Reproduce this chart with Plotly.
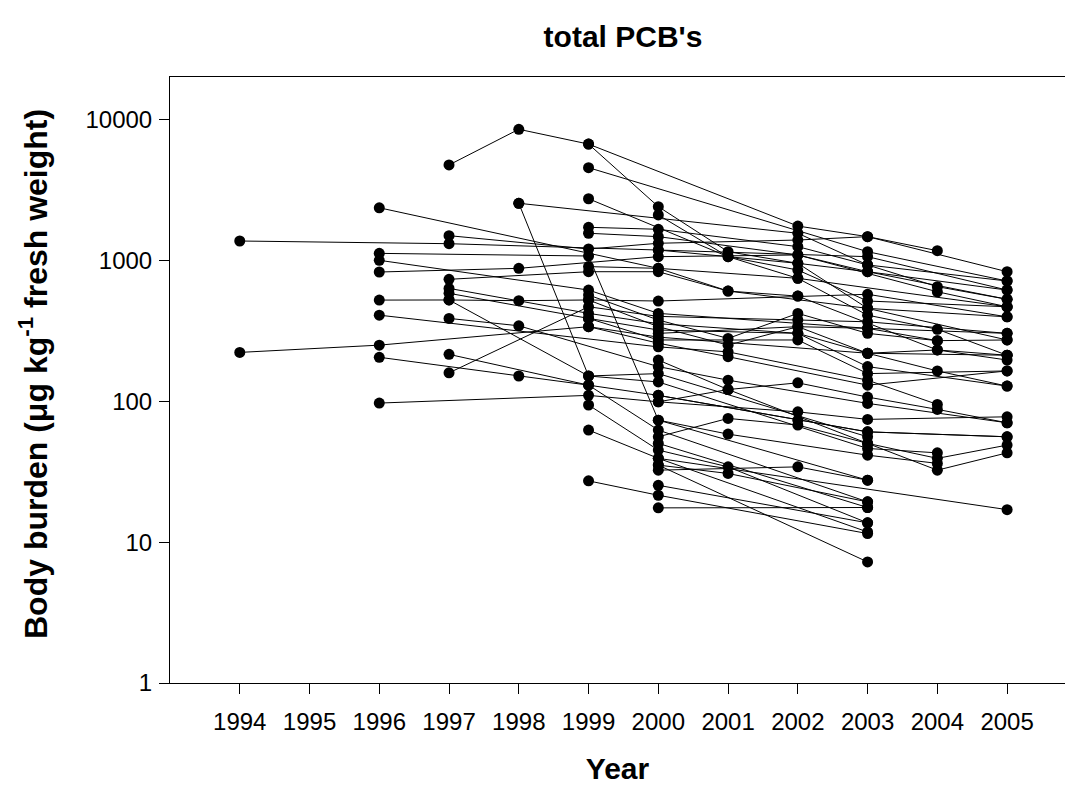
import plotly.graph_objects as go

# Years shown on the x axis
tick_years = [1994, 1995, 1996, 1997, 1998, 1999, 2000, 2001, 2002, 2003, 2004, 2005]
y_tick_values = [1, 10, 100, 1000, 10000]
y_tick_labels = ["1", "10", "100", "1000", "10000"]

# Each site's sampling years and total PCB body burden (µg/kg fresh weight)
site_years = [
    [1994, 1997, 2000, 2003, 2005],
    [1994, 1996, 1999, 2000, 2003, 2005],
    [1996, 2000, 2002, 2005],
    [1996, 1999, 2000, 2003],
    [1996, 1999, 2000, 2003, 2004],
    [1996, 1998, 2000, 2002, 2003, 2005],
    [1996, 1997, 1998, 1999, 2000, 2002, 2003, 2005],
    [1996, 2000, 2001, 2003, 2004],
    [1996, 1998, 1999, 2000, 2003, 2005],
    [1996, 1999, 2000, 2002, 2003, 2005],
    [1997, 1998, 1999, 2002, 2003, 2005],
    [1997, 1999, 2000, 2002, 2003, 2004],
    [1997, 1999, 2000, 2001, 2003, 2005],
    [1997, 1999, 2000, 2002, 2003, 2005],
    [1997, 1999, 2000, 2002, 2003, 2005],
    [1997, 1999, 2000, 2003, 2004],
    [1997, 1998, 2000, 2001, 2003, 2005],
    [1997, 1999, 2000, 2003],
    [1997, 1999, 2000, 2002, 2003, 2005],
    [1998, 1999, 2000, 2003],
    [1998, 2002, 2003, 2005],
    [1999, 2003, 2005],
    [1999, 2000, 2001, 2002, 2003, 2005],
    [1999, 2001, 2002, 2003, 2005],
    [1999, 2000, 2002, 2003, 2004, 2005],
    [1999, 2000, 2002, 2004, 2005],
    [2000, 2001, 2002, 2003, 2004, 2005],
    [2000, 2002, 2003, 2005],
    [1999, 2000, 2001, 2002, 2004, 2005],
    [1999, 2000, 2001, 2002, 2003, 2004, 2005],
    [1999, 2000, 2001, 2002, 2003, 2005],
    [1999, 2000, 2002, 2003, 2004, 2005],
    [1999, 2000, 2001, 2003, 2005],
    [1999, 2000, 2001, 2003],
    [1999, 2000, 2003],
    [1999, 2000, 2003],
    [2000, 2001, 2003, 2004],
    [2000, 2001, 2002, 2003, 2004, 2005],
    [2000, 2003],
    [2000, 2001, 2003],
    [2000, 2002, 2003],
    [2000, 2003],
    [2000, 2003],
    [2000, 2003],
    [2000, 2001, 2002, 2003, 2004, 2005],
    [2000, 2002, 2003, 2005],
    [2000, 2005],
    [2000, 2002, 2003, 2004, 2005],
    [2000, 2001, 2003, 2004, 2005],
]

site_values = [
    [1371, 1312, 1183, 1061, 615],
    [222, 250, 338, 285, 219, 212],
    [2360, 877, 745, 468],
    [1120, 1073, 73.4, 27.5],
    [1000, 615, 420, 329, 269],
    [826, 877, 1061, 1091, 830, 529],
    [522, 523, 517, 523, 514, 557, 574, 397],
    [408, 243, 224, 141, 94.9],
    [205, 151, 130, 110, 60.6, 55.9],
    [97, 110, 99, 84, 74.3, 77.5],
    [4750, 8510, 6680, 1750, 1472, 830],
    [1496, 1203, 1321, 1393, 1472, 1170],
    [733, 830, 830, 605, 456, 272],
    [632, 420, 355, 303, 176, 128],
    [583, 387, 272, 272, 157, 164],
    [523, 151, 137, 46.2, 43],
    [387, 343, 176, 141, 96.5, 70.3],
    [215, 130, 62.4, 19.3],
    [159, 468, 400, 377, 366, 303],
    [2540, 151, 157, 55.9],
    [2540, 1556, 927, 713],
    [4545, 1151, 713],
    [6680, 2404, 1151, 952, 830, 615],
    [2735, 1061, 853, 514, 468],
    [1715, 1660, 1250, 927, 650, 529],
    [1556, 1472, 1091, 598, 468],
    [2099, 1061, 745, 408, 324, 212],
    [1183, 952, 456, 397],
    [902, 877, 605, 557, 231, 196],
    [567, 377, 279, 420, 303, 269, 272],
    [523, 338, 250, 338, 329, 303],
    [387, 320, 303, 219, 164, 128],
    [338, 258, 207, 130, 164],
    [94, 45, 34.2, 13.7],
    [62.4, 39.3, 11.8],
    [27.2, 21.5, 11.5],
    [73.4, 58.4, 41.4, 36.2],
    [55.9, 75.5, 67.7, 50.2, 39.3, 48.8],
    [50.2, 17.6],
    [35.2, 30.7, 19.3],
    [32.4, 34.2, 27.5],
    [25.3, 13.7],
    [17.5, 17.6],
    [35.2, 7.23],
    [99, 121, 135, 107, 87.5, 70.3],
    [110, 73.4, 60.6, 55.9],
    [39.3, 17.0],
    [303, 338, 219, 231, 212],
    [196, 121, 50.2, 32.4, 43],
]

FONT = "Arial, Liberation Sans, sans-serif"

fig = go.Figure()
for yrs, vals in zip(site_years, site_values):
    fig.add_trace(go.Scatter(
        x=yrs, y=vals, mode="lines+markers",
        line=dict(color="black", width=1),
        marker=dict(color="black", size=11, line=dict(width=0)),
        showlegend=False, hoverinfo="x+y",
    ))

fig.update_layout(
    width=1065, height=785,
    margin=dict(l=170, r=0, t=77, b=102),
    paper_bgcolor="white", plot_bgcolor="white",
    font=dict(family=FONT, color="black"),
    title=dict(text="total PCB's", x=0.585, xanchor="center", y=0.953, yanchor="middle",
               font=dict(family=FONT, size=30, weight="bold", color="black")),
    xaxis=dict(
        range=[1993, 2005.83], tickmode="array", tickvals=tick_years,
        ticks="outside", ticklen=10, tickwidth=1, tickcolor="black",
        showline=True, linecolor="black", linewidth=1, mirror=True,
        showgrid=False, zeroline=False, ticklabelstandoff=7,
        tickfont=dict(family=FONT, size=24, color="black"),
        title=dict(text="Year", standoff=25,
                   font=dict(family=FONT, size=30, weight="bold", color="black")),
    ),
    yaxis=dict(
        type="log", range=[0, 4.301], tickmode="array",
        tickvals=y_tick_values, ticktext=y_tick_labels,
        ticks="outside", ticklen=10, tickwidth=1, tickcolor="black",
        showline=True, linecolor="black", linewidth=1, mirror=False,
        showgrid=False, zeroline=False, ticklabelstandoff=2,
        tickfont=dict(family=FONT, size=24, color="black"),
    ),
    annotations=[dict(
        text="Body burden (μg kg<sup>-1</sup> fresh weight)",
        xref="paper", yref="paper", x=-0.153, y=0.51,
        xanchor="center", yanchor="middle", textangle=-90, showarrow=False,
        font=dict(family=FONT, size=32, weight="bold", color="black"),
    )],
)

# Remove the browser's default page margin so the figure fills the window exactly
fig.write_html(
    "out.html",
    config={"displayModeBar": False},
    post_script="document.body.style.margin='0';document.body.style.overflow='hidden';",
)
